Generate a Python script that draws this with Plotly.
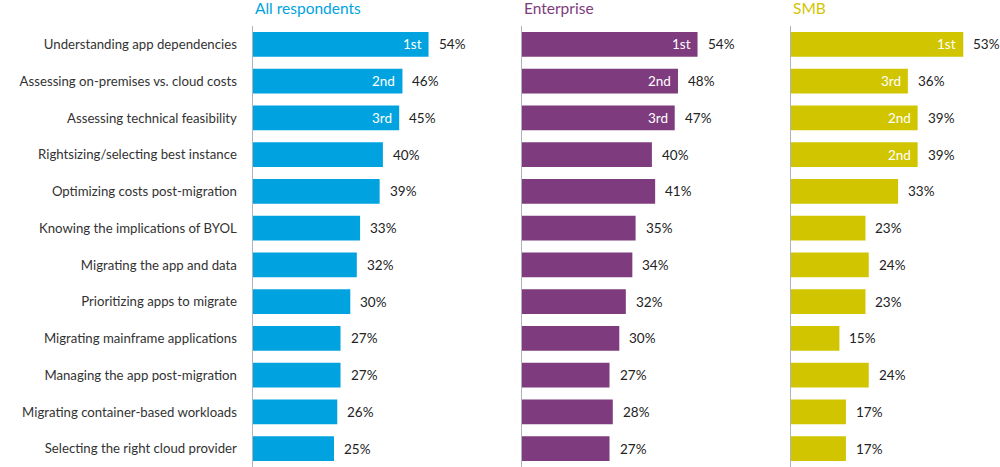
"""Cloud migration challenges: all respondents vs enterprise vs SMB."""

import plotly.graph_objects as go

CHALLENGES = [
    "Understanding app dependencies",
    "Assessing on-premises vs. cloud costs",
    "Assessing technical feasibility",
    "Rightsizing/selecting best instance",
    "Optimizing costs post-migration",
    "Knowing the implications of BYOL",
    "Migrating the app and data",
    "Prioritizing apps to migrate",
    "Migrating mainframe applications",
    "Managing the app post-migration",
    "Migrating container-based workloads",
    "Selecting the right cloud provider",
]

ALL_PCT = [54, 46, 45, 40, 39, 33, 32, 30, 27, 27, 26, 25]
ENTERPRISE_PCT = [54, 48, 47, 40, 41, 35, 34, 32, 30, 27, 28, 27]
SMB_PCT = [53, 36, 39, 39, 33, 23, 24, 23, 15, 24, 17, 17]

ALL_RANK = ["1st", "2nd", "3rd"] + [""] * 9
ENTERPRISE_RANK = ["1st", "2nd", "3rd"] + [""] * 9
SMB_RANK = ["1st", "3rd", "2nd", "2nd"] + [""] * 8

PANEL_TITLES = ["All respondents", "Enterprise", "SMB"]
PANEL_COLORS = ["#00A3E0", "#7E3B7D", "#D1C500"]

FONT = "Source Sans Pro, Lato, Noto Sans, sans-serif"
W, H = 1000, 467
PX_PER_PCT = 3.26
X_MAX = 64
PANEL_LEFT = [252.5, 521.5, 790.5]
PLOT_TOP = 26

series = [ALL_PCT, ENTERPRISE_PCT, SMB_PCT]
ranks = [ALL_RANK, ENTERPRISE_RANK, SMB_RANK]

fig = go.Figure()
annotations = []

for i, (vals, rank, color, title) in enumerate(zip(series, ranks, PANEL_COLORS, PANEL_TITLES)):
    suffix = "" if i == 0 else str(i + 1)
    fig.add_trace(
        go.Bar(
            x=vals,
            y=CHALLENGES,
            orientation="h",
            marker=dict(color=color, line=dict(width=0)),
            width=0.68,
            xaxis=f"x{suffix}",
            yaxis=f"y{suffix}",
            hoverinfo="x+y",
            showlegend=False,
        )
    )
    for cat, v, r in zip(CHALLENGES, vals, rank):
        annotations.append(dict(
            x=v, y=cat, xref=f"x{suffix}", yref=f"y{suffix}",
            text=f"{v}%", showarrow=False, xanchor="left", xshift=8,
            font=dict(family=FONT, size=13.5, color="#222222"),
        ))
        if r:
            annotations.append(dict(
                x=v, y=cat, xref=f"x{suffix}", yref=f"y{suffix}",
                text=r, showarrow=False, xanchor="right", xshift=-5,
                font=dict(family=FONT, size=13.5, color="white"),
            ))
    x0 = PANEL_LEFT[i] / W
    x1 = min((PANEL_LEFT[i] + X_MAX * PX_PER_PCT) / W, 1.0)
    annotations.append(dict(
        x=x0, y=1, xref="paper", yref="paper", yshift=18,
        text=title, showarrow=False, xanchor="left", yanchor="middle",
        font=dict(family=FONT, size=15.5, color=color),
    ))
    fig.update_layout({
        f"xaxis{suffix}": dict(
            domain=[x0, x1], range=[0, X_MAX], visible=False, fixedrange=True,
            automargin=False,
        ),
        f"yaxis{suffix}": dict(
            anchor=f"x{suffix}", domain=[0, 1], automargin=False,
            autorange="reversed", showgrid=False, zeroline=False,
            showline=True, linecolor="#AEB4BF", linewidth=1,
            ticks="", showticklabels=(i == 0), ticklabelstandoff=12,
            tickfont=dict(family=FONT, size=13.2, color="#333333"),
        ),
    })

fig.update_layout(
    width=W,
    height=H,
    margin=dict(l=0, r=0, t=PLOT_TOP, b=0),
    paper_bgcolor="white",
    plot_bgcolor="white",
    bargap=0.32,
    annotations=annotations,
)

# drop the default 8px page margin so the figure fills the window exactly
fig.write_html(
    "out.html",
    config={"displayModeBar": False},
    post_script="document.body.style.margin = '0';",
)
